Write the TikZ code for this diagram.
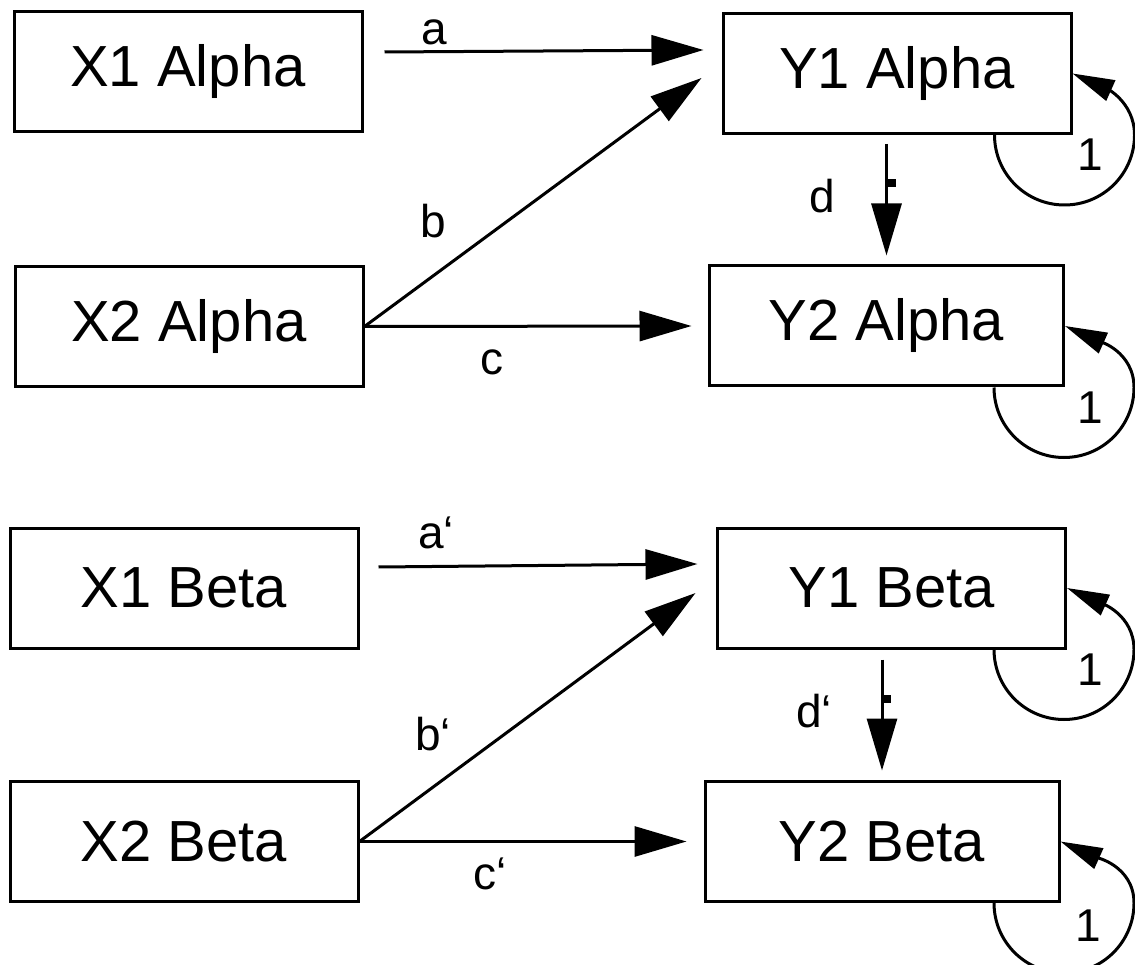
\documentclass[tikz,border=0pt]{standalone}
\usepackage{fontspec}
\setmainfont{Liberation Sans}
\usetikzlibrary{arrows.meta}

\begin{document}
\begin{tikzpicture}[
    x=1pt, y=1pt,
    box/.style={draw, rectangle, line width=3pt, minimum width=348pt, minimum height=120pt, inner sep=0pt, align=center, font=\fontsize{58}{66}\selectfont},
    lbl/.style={anchor=base, inner sep=0pt, font=\fontsize{46}{52}\selectfont},
    arrow/.style={-{Triangle[length=52pt, width=30pt]}, line width=3pt},
    selfloop/.style={-{Triangle[length=42pt, width=22pt]}, line width=3pt}
]
\useasboundingbox (0,0) rectangle (1135,-965);

% Gruppe Alpha
\node[box] (x1a) at (188,-72) {X1 Alpha};
\node[box] (y1a) at (897,-73.5) {Y1 Alpha};
\node[box] (x2a) at (189,-326.5) {X2 Alpha};
\node[box, minimum width=354pt] (y2a) at (886.5,-326) {Y2 Alpha};

% Gruppe Beta
\node[box] (x1b) at (184,-588) {X1 Beta};
\node[box] (y1b) at (891.5,-588) {Y1 Beta};
\node[box] (x2b) at (184,-841.5) {X2 Beta};
\node[box, minimum width=354pt] (y2b) at (882,-841.5) {Y2 Beta};

% Pfade Alpha
\draw[arrow] ([shift={(21,20)}]x1a.east) -- ([shift={(-18,23.5)}]y1a.west);
\draw[arrow] (x2a.east) -- ([shift={(-20,-4.5)}]y1a.west);
\draw[arrow] (x2a.east) -- ([xshift=-16.5pt]y2a.west);
\draw[arrow] ([yshift=-9pt]y2a.north |- y1a.south) -- ([yshift=9pt]y2a.north);
\fill ([yshift=-44pt]y2a.north |- y1a.south) rectangle +(9,-8);

% Pfade Beta
\draw[arrow] ([shift={(19,21)}]x1b.east) -- ([shift={(-18.5,24)}]y1b.west);
\draw[arrow] (x2b.east) -- ([shift={(-20.5,-5)}]y1b.west);
\draw[arrow] (x2b.east) -- ([xshift=-17pt]y2b.west);
\draw[arrow] ([yshift=-10pt]y2b.north |- y1b.south) -- ([yshift=9.5pt]y2b.north);
\fill ([yshift=-45pt]y2b.north |- y1b.south) rectangle +(9,-8);

% Residuen
\draw[selfloop] ([xshift=-78pt]y1a.south east) arc[start angle=180, end angle=360, radius=70pt] to[out=90, in=-24] (y1a.east);
\draw[selfloop] ([xshift=-71pt]y2a.south east) arc[start angle=180, end angle=360, radius=70pt] to[out=90, in=-24] (y2a.east);
\draw[selfloop] ([xshift=-73pt]y1b.south east) arc[start angle=180, end angle=360, radius=70pt] to[out=90, in=-24] (y1b.east);
\draw[selfloop] ([xshift=-66.5pt]y2b.south east) arc[start angle=180, end angle=360, radius=70pt] to[out=90, in=-24] (y2b.east);

% Beschriftungen
\node[lbl] (la) at (434,-45) {a};
\node[lbl] (lb) at (433,-238) {b};
\node[lbl] (lc) at (492,-375) {c};
\node[lbl] (ld) at (822,-213) {d};
\node[lbl] (la2) at (436,-548) {a‘};
\node[lbl] (lb2) at (433,-750) {b‘};
\node[lbl] (lc2) at (490,-889) {c‘};
\node[lbl] (ld2) at (814,-727) {d‘};
\node[lbl] (r1a) at ([shift={(18,-36)}]y1a.south east) {1};
\node[lbl] (r2a) at ([shift={(25,-36)}]y2a.south east) {1};
\node[lbl] (r1b) at ([shift={(23,-36)}]y1b.south east) {1};
\node[lbl] (r2b) at ([shift={(28,-38)}]y2b.south east) {1};

\end{tikzpicture}
\end{document}
